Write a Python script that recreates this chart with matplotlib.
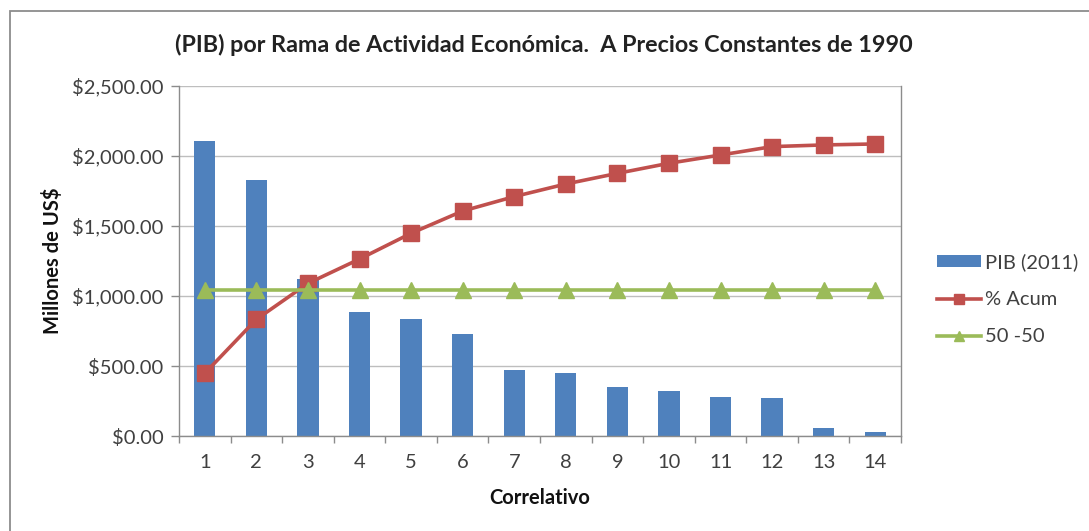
import matplotlib
matplotlib.use("Agg")
import matplotlib.pyplot as plt
import numpy as np
from matplotlib.patches import Rectangle
from matplotlib.ticker import FuncFormatter, MultipleLocator, FixedLocator

# Data
categories = list(range(1, 15))
pib_2011 = [2109, 1829, 1121, 888, 836, 728, 474, 452, 348, 324, 281, 269, 60, 26]
acum = [448, 833, 1090, 1264, 1448, 1607, 1710, 1800, 1876, 1948, 2007, 2067, 2079, 2086]
linea_50 = [1040] * 14

title = "(PIB) por Rama de Actividad Económica.  A Precios Constantes de 1990"
ylabel = "Millones de US$"
xlabel = "Correlativo"

BLUE = "#4F81BD"
RED = "#C0504D"
GREEN = "#9BBB59"
GRID = "#BEBEBE"
TEXT = "#404040"

plt.rcParams["font.family"] = ["Lato", "DejaVu Sans"]

fig = plt.figure(figsize=(10.89, 5.31), dpi=100)
ax = fig.add_axes([179 / 1089, 1 - 436 / 531, 722 / 1089, 350 / 531])

# outer chart frame
fig.patches.append(Rectangle((10 / 1089, -0.05), 1.2, 1 - 11 / 531 + 0.05,
                             transform=fig.transFigure, fill=False,
                             edgecolor="#8C8C8C", linewidth=1.3))

x = np.arange(len(categories))
bars = ax.bar(x, pib_2011, width=0.41, color=BLUE, label="PIB (2011)", zorder=2)
l_acum, = ax.plot(x, acum, color=RED, linewidth=2.6, marker="s", markersize=11,
                  markeredgecolor=RED, label="% Acum", zorder=3)
l_50, = ax.plot(x, linea_50, color=GREEN, linewidth=2.6, marker="^", markersize=11,
                markeredgecolor=GREEN, label="50 -50", zorder=3)

ax.set_xlim(-0.5, len(categories) - 0.5)
ax.set_ylim(0, 2500)
ax.yaxis.set_major_locator(MultipleLocator(500))
ax.yaxis.set_major_formatter(FuncFormatter(lambda v, p: f"${v:,.2f}"))
ax.grid(axis="y", color=GRID, linewidth=1.0, zorder=0)
ax.set_axisbelow(True)

ax.set_xticks(x)
ax.set_xticklabels([str(c) for c in categories])
ax.xaxis.set_minor_locator(FixedLocator(np.arange(-0.5, len(categories), 1.0)))
ax.tick_params(axis="x", which="major", length=0, pad=13, labelsize=14.5, labelcolor=TEXT)
ax.tick_params(axis="x", which="minor", length=5, width=1, color="#8C8C8C")
ax.tick_params(axis="y", which="major", length=6, width=1, color="#8C8C8C",
               labelsize=14.5, labelcolor=TEXT, pad=5)

for side in ["left", "bottom", "right"]:
    ax.spines[side].set_color("#8C8C8C")
    ax.spines[side].set_linewidth(1.0)
ax.spines["top"].set_visible(False)

fig.text(544 / 1089, 1 - 45 / 531, title, ha="center", va="center",
         fontsize=16.8, fontweight="bold", color="#222222")
fig.text(53 / 1089, 1 - 261 / 531, ylabel, ha="center", va="center",
         rotation=90, fontsize=14.5, fontweight="bold", color="#111111")
fig.text(540 / 1089, 1 - 498 / 531, xlabel, ha="center", va="center",
         fontsize=14.5, fontweight="bold", color="#111111")

leg = ax.legend(handles=[bars, l_acum, l_50], loc="upper left",
                bbox_to_anchor=(929 / 1089, 1 - 245 / 531),
                bbox_transform=fig.transFigure, frameon=False, fontsize=14.5,
                handlelength=2.2, handletextpad=0.2, labelspacing=1.0,
                borderaxespad=0, markerscale=0.65, handleheight=0.5)
for t in leg.get_texts():
    t.set_color(TEXT)

fig.savefig("out.png", dpi=100, facecolor="white")
